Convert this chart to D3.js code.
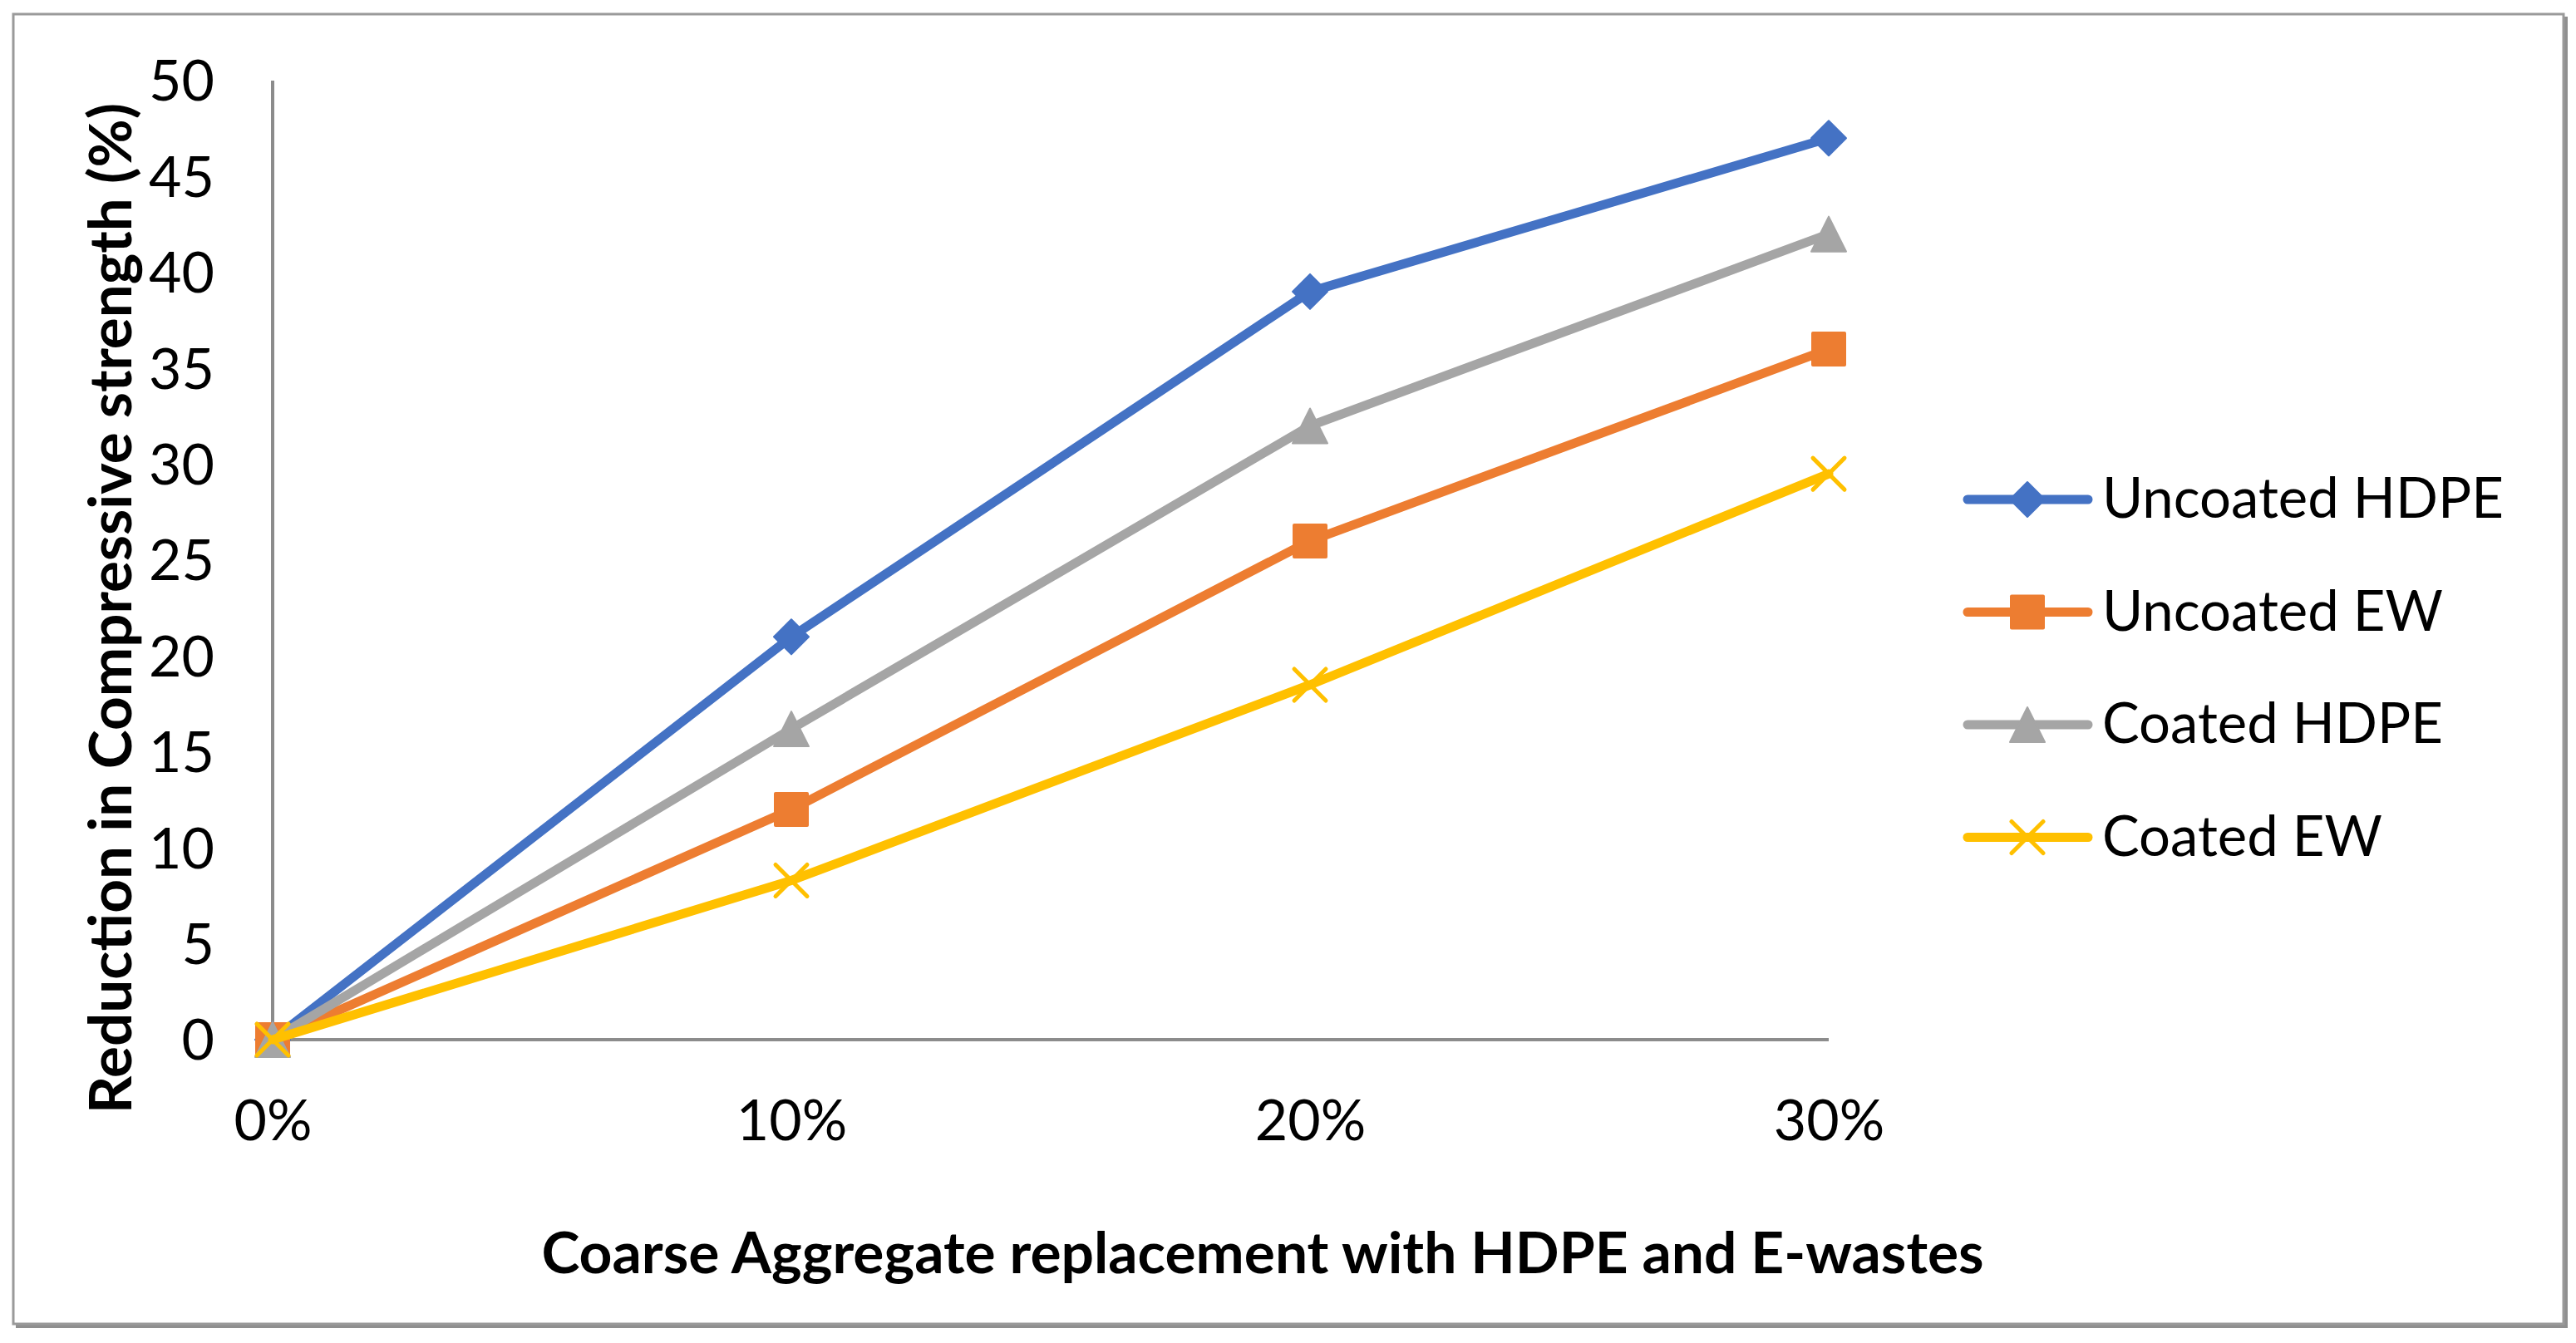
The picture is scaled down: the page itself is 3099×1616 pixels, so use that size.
<!DOCTYPE html>
<html>
<head>
<meta charset="utf-8">
<script src="https://cdn.jsdelivr.net/npm/d3@7"></script>
<style>
  html, body { margin: 0; padding: 0; background: #fff; }
  svg { display: block; }
  text { font-family: Lato, "Open Sans", sans-serif; fill: #000; }
</style>
</head>
<body>
<svg id="chart" width="3099" height="1616"></svg>
<script>
// ---- data ----
const categories = ["0%", "10%", "20%", "30%"];
const yTicks = [0, 5, 10, 15, 20, 25, 30, 35, 40, 45, 50];
const seriesNames = ["Uncoated HDPE", "Uncoated EW", "Coated HDPE", "Coated EW"];
const uncoatedHDPE = [0, 21, 39, 47];
const uncoatedEW = [0, 12, 26, 36];
const coatedHDPE = [0, 16.2, 32, 42];
const coatedEW = [0, 8.3, 18.5, 29.5];
const seriesColors = ["#4472C4", "#ED7D31", "#A5A5A5", "#FFC000"];
const seriesMarkers = ["diamond", "square", "triangle", "x"];
const xTitle = "Coarse Aggregate replacement with HDPE and E-wastes";
const yTitle = "Reduction in Compressive strength (%)";

const seriesValues = [uncoatedHDPE, uncoatedEW, coatedHDPE, coatedEW];
const series = seriesNames.map((name, i) => ({
  name, color: seriesColors[i], marker: seriesMarkers[i],
  values: seriesValues[i].map((v, j) => ({cat: categories[j], v}))
}));

const svg = d3.select("#chart");
const W = 3099, H = 1616;

// outer frame with slight shadow
svg.append("rect").attr("x", 0).attr("y", 0).attr("width", W).attr("height", H).attr("fill", "#fff");
svg.append("path")
  .attr("d", `M3087,20 L3087,1596 L19,1596`)
  .attr("fill", "none").attr("stroke", "#8f8f8f").attr("stroke-width", 4);
svg.append("rect")
  .attr("x", 16).attr("y", 17).attr("width", 3068).attr("height", 1576)
  .attr("fill", "none").attr("stroke", "#9a9a9a").attr("stroke-width", 3);

// scales
const x = d3.scalePoint().domain(categories).range([328, 2200]);
const y = d3.scaleLinear().domain([0, 50]).range([1251, 97]);

// axes
const yAxis = svg.append("g").attr("transform", "translate(328,0)")
  .call(d3.axisLeft(y).tickValues(yTicks).tickSize(0).tickSizeOuter(0).tickPadding(70));
yAxis.select(".domain").attr("stroke", "#8c8c8c").attr("stroke-width", 4);
yAxis.selectAll("text").attr("font-size", 68).attr("font-family", "Lato").attr("dy", "0.35em").attr("fill", "#000");

const xAxis = svg.append("g").attr("transform", "translate(0,1251)")
  .call(d3.axisBottom(x).tickSize(0).tickSizeOuter(0).tickPadding(0));
xAxis.select(".domain").attr("stroke", "#8c8c8c").attr("stroke-width", 4);
xAxis.selectAll("text").attr("font-size", 68).attr("font-family", "Lato")
  .attr("y", 121).attr("dy", 0).attr("fill", "#000");
xAxis.select(".domain").attr("d", `M328,0H2200`);
yAxis.select(".domain").attr("d", `M0,${y(50)}V${y(0)}`);

// marker drawing
function drawMarker(g, type, color, cx, cy) {
  const s = 21;
  if (type === "diamond") {
    g.append("path").attr("d", `M${cx},${cy - s} L${cx + s},${cy} L${cx},${cy + s} L${cx - s},${cy} Z`)
      .attr("fill", color).attr("stroke", color).attr("stroke-width", 2).attr("stroke-linejoin", "round");
  } else if (type === "square") {
    g.append("rect").attr("x", cx - s).attr("y", cy - s).attr("width", 2 * s).attr("height", 2 * s)
      .attr("fill", color).attr("rx", 2);
  } else if (type === "triangle") {
    g.append("path").attr("d", `M${cx},${cy - s} L${cx + s},${cy + s} L${cx - s},${cy + s} Z`)
      .attr("fill", color).attr("stroke", color).attr("stroke-width", 2).attr("stroke-linejoin", "round");
  } else if (type === "x") {
    const r = 19;
    g.append("path").attr("d", `M${cx - r},${cy - r} L${cx + r},${cy + r} M${cx + r},${cy - r} L${cx - r},${cy + r}`)
      .attr("stroke", color).attr("stroke-width", 5).attr("fill", "none").attr("stroke-linecap", "round");
  }
}

// lines + markers
const line = d3.line().x(d => x(d.cat)).y(d => y(d.v));
series.forEach(s => {
  const g = svg.append("g");
  g.append("path").datum(s.values).attr("d", line)
    .attr("fill", "none").attr("stroke", s.color).attr("stroke-width", 11)
    .attr("stroke-linejoin", "round").attr("stroke-linecap", "round");
  s.values.forEach(d => drawMarker(g, s.marker, s.color, x(d.cat), y(d.v)));
});

// legend
const legendY0 = 601, legendStep = 135.5;
series.forEach((s, i) => {
  const ly = legendY0 + i * legendStep;
  const g = svg.append("g");
  g.append("line").attr("x1", 2367).attr("x2", 2512).attr("y1", ly).attr("y2", ly)
    .attr("stroke", s.color).attr("stroke-width", 11).attr("stroke-linecap", "round");
  drawMarker(g, s.marker, s.color, 2439, ly);
  g.append("text").attr("x", 2529).attr("y", ly + 22).attr("font-size", 67).text(s.name);
});

// axis titles
svg.append("text").attr("x", 1519).attr("y", 1532).attr("text-anchor", "middle")
  .attr("font-size", 69.5).attr("font-weight", "bold").text(xTitle);
svg.append("text").attr("transform", "translate(158,732) rotate(-90)").attr("text-anchor", "middle")
  .attr("font-size", 71).attr("font-weight", "bold").text(yTitle);
</script>
</body>
</html>
